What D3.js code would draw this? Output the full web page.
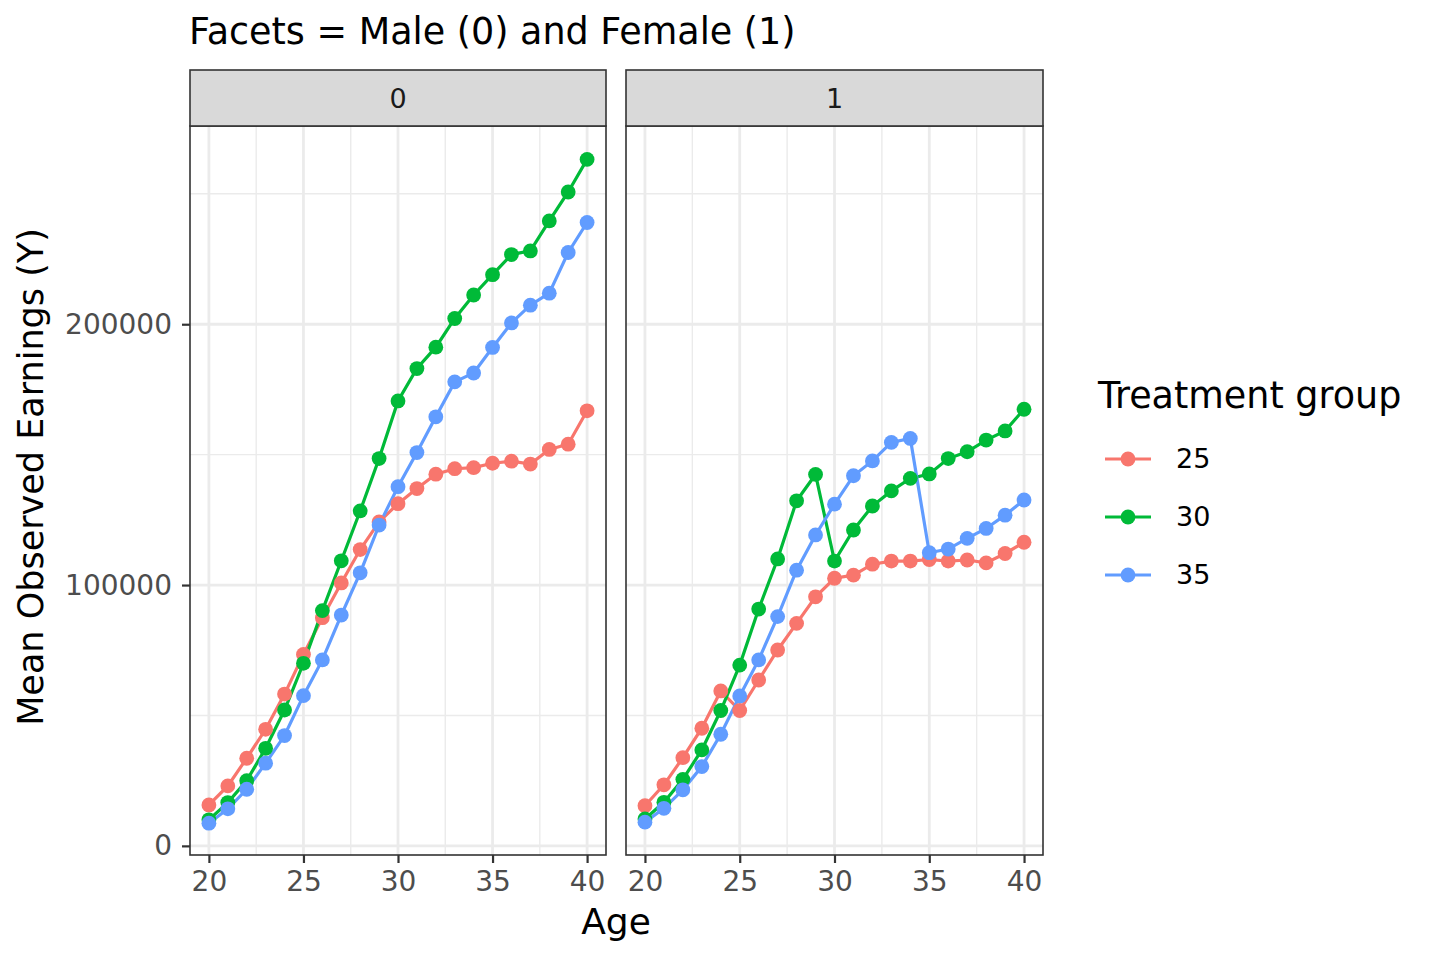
<!DOCTYPE html>
<html>
<head>
<meta charset="utf-8">
<script src="https://cdn.jsdelivr.net/npm/d3@7"></script>
<style>
  body { margin: 0; background: #fff; }
  text { font-family: "DejaVu Sans", sans-serif; }
</style>
</head>
<body>
<svg id="chart" width="1440" height="960"></svg>
<script>
const ages = d3.range(20, 41);
const facets = ["0", "1"];
const groups = ["25", "30", "35"];
const groupColors = ["#F8766D", "#00BA38", "#619CFF"];

// facet 0 (male)
const male25 = [15700, 23000, 33600, 44700, 58200, 73400, 87500, 100800, 113600, 124200, 131200,
                137000, 142500, 144600, 145000, 146700, 147500, 146400, 152000, 154000, 166800];
const male30 = [10000, 16600, 25000, 37400, 52100, 70000, 90200, 109300, 128400, 148500, 170600,
                183000, 191200, 202200, 211200, 219000, 226700, 228100, 239600, 250700, 263200];
const male35 = [8700, 14200, 21700, 31700, 42300, 57600, 71300, 88500, 104700, 123000, 137700,
                150800, 164500, 177900, 181300, 191100, 200500, 207300, 211900, 227500, 239000];
// facet 1 (female)
const female25 = [15400, 23400, 33800, 45100, 59400, 51900, 63600, 75100, 85300, 95500, 102600,
                  103800, 108000, 109200, 109200, 109800, 109200, 109600, 108500, 112100, 116400];
const female30 = [10300, 16700, 25500, 36800, 51900, 69300, 90800, 110000, 132300, 142400, 109200,
                  121100, 130300, 136100, 140900, 142600, 148500, 151100, 155600, 159100, 167400];
const female35 = [9100, 14400, 21500, 30400, 42800, 57500, 71300, 87900, 105700, 119200, 131000,
                  141900, 147600, 154700, 156200, 112400, 113800, 117900, 121700, 126800, 132600];

const xTicks = [20, 25, 30, 35, 40];
const xMinor = [22.5, 27.5, 32.5, 37.5];
const yTicks = [0, 100000, 200000];
const yMinor = [50000, 150000, 250000];

const seriesByFacet = {
  "0": [male25, male30, male35],
  "1": [female25, female30, female35]
};

const svg = d3.select("#chart");
const panelTop = 126, panelBottom = 855, stripTop = 70;
const panelX = { "0": [190, 606], "1": [626, 1043] };
const color = d3.scaleOrdinal().domain(groups).range(groupColors);

const y = d3.scaleLinear().domain([-3500, 276000]).range([panelBottom, panelTop]);

// title
svg.append("text").attr("x", 189).attr("y", 44)
  .attr("font-size", 36.5).attr("fill", "#000")
  .text("Facets = Male (0) and Female (1)");

facets.forEach(f => {
  const [x0, x1] = panelX[f];
  const x = d3.scaleLinear().domain([19, 41]).range([x0, x1]);
  const g = svg.append("g");

  // panel background
  g.append("rect").attr("x", x0).attr("y", panelTop).attr("width", x1 - x0)
    .attr("height", panelBottom - panelTop).attr("fill", "#fff");

  // minor grid
  g.append("g").selectAll("line").data(xMinor).join("line")
    .attr("x1", d => x(d)).attr("x2", d => x(d))
    .attr("y1", panelTop).attr("y2", panelBottom)
    .attr("stroke", "#EBEBEB").attr("stroke-width", 1.4);
  g.append("g").selectAll("line").data(yMinor).join("line")
    .attr("x1", x0).attr("x2", x1)
    .attr("y1", d => y(d)).attr("y2", d => y(d))
    .attr("stroke", "#EBEBEB").attr("stroke-width", 1.4);
  // major grid
  g.append("g").selectAll("line").data(xTicks).join("line")
    .attr("x1", d => x(d)).attr("x2", d => x(d))
    .attr("y1", panelTop).attr("y2", panelBottom)
    .attr("stroke", "#EBEBEB").attr("stroke-width", 2.8);
  g.append("g").selectAll("line").data(yTicks).join("line")
    .attr("x1", x0).attr("x2", x1)
    .attr("y1", d => y(d)).attr("y2", d => y(d))
    .attr("stroke", "#EBEBEB").attr("stroke-width", 2.8);

  // series
  const line = d3.line().x((d, i) => x(ages[i])).y(d => y(d));
  seriesByFacet[f].forEach((vals, k) => {
    g.append("path").datum(vals).attr("d", line)
      .attr("fill", "none").attr("stroke", color(groups[k])).attr("stroke-width", 3.2);
  });
  seriesByFacet[f].forEach((vals, k) => {
    g.append("g").selectAll("circle").data(vals).join("circle")
      .attr("cx", (d, i) => x(ages[i])).attr("cy", d => y(d)).attr("r", 7.4)
      .attr("fill", color(groups[k]));
  });

  // panel border
  g.append("rect").attr("x", x0).attr("y", panelTop).attr("width", x1 - x0)
    .attr("height", panelBottom - panelTop).attr("fill", "none")
    .attr("stroke", "#333333").attr("stroke-width", 1.6);

  // strip
  g.append("rect").attr("x", x0).attr("y", stripTop).attr("width", x1 - x0)
    .attr("height", panelTop - stripTop).attr("fill", "#D9D9D9")
    .attr("stroke", "#333333").attr("stroke-width", 1.6);
  g.append("text").attr("x", (x0 + x1) / 2).attr("y", 108)
    .attr("text-anchor", "middle")
    .attr("font-size", 27).attr("fill", "#1A1A1A").text(f);

  // x axis
  const xAxis = g.append("g").attr("transform", `translate(0,${panelBottom})`)
    .call(d3.axisBottom(x).tickValues(xTicks).tickSize(8).tickPadding(8));
  xAxis.select(".domain").remove();
  xAxis.selectAll(".tick line").attr("stroke", "#333333").attr("stroke-width", 2.2);
  xAxis.selectAll(".tick text").attr("font-size", 28).attr("fill", "#4D4D4D")
    .attr("font-family", "DejaVu Sans");

  if (f === "0") {
    const yAxis = g.append("g").attr("transform", `translate(${x0},0)`)
      .call(d3.axisLeft(y).tickValues(yTicks).tickFormat(d3.format("d")).tickSize(8).tickPadding(10));
    yAxis.select(".domain").remove();
    yAxis.selectAll(".tick line").attr("stroke", "#333333").attr("stroke-width", 2.2);
    yAxis.selectAll(".tick text").attr("font-size", 28).attr("fill", "#4D4D4D")
      .attr("font-family", "DejaVu Sans");
  }
});

// axis titles
svg.append("text").attr("x", 616).attr("y", 934)
  .attr("text-anchor", "middle").attr("font-size", 36).text("Age");
svg.append("text")
  .attr("transform", "translate(43,477) rotate(-90)")
  .attr("text-anchor", "middle").attr("font-size", 35).text("Mean Observed Earnings (Y)");

// legend
const legend = svg.append("g");
legend.append("text").attr("x", 1098).attr("y", 408).attr("font-size", 36.5)
  .text("Treatment group");
const keyY = d3.scalePoint().domain(groups).range([459, 575]);
groups.forEach(gname => {
  const ky = keyY(gname);
  legend.append("line").attr("x1", 1105).attr("x2", 1151).attr("y1", ky).attr("y2", ky)
    .attr("stroke", color(gname)).attr("stroke-width", 3.2);
  legend.append("circle").attr("cx", 1128).attr("cy", ky).attr("r", 7.4).attr("fill", color(gname));
  legend.append("text").attr("x", 1176).attr("y", ky).attr("dy", "0.35em")
    .attr("font-size", 27).text(gname);
});
</script>
</body>
</html>
